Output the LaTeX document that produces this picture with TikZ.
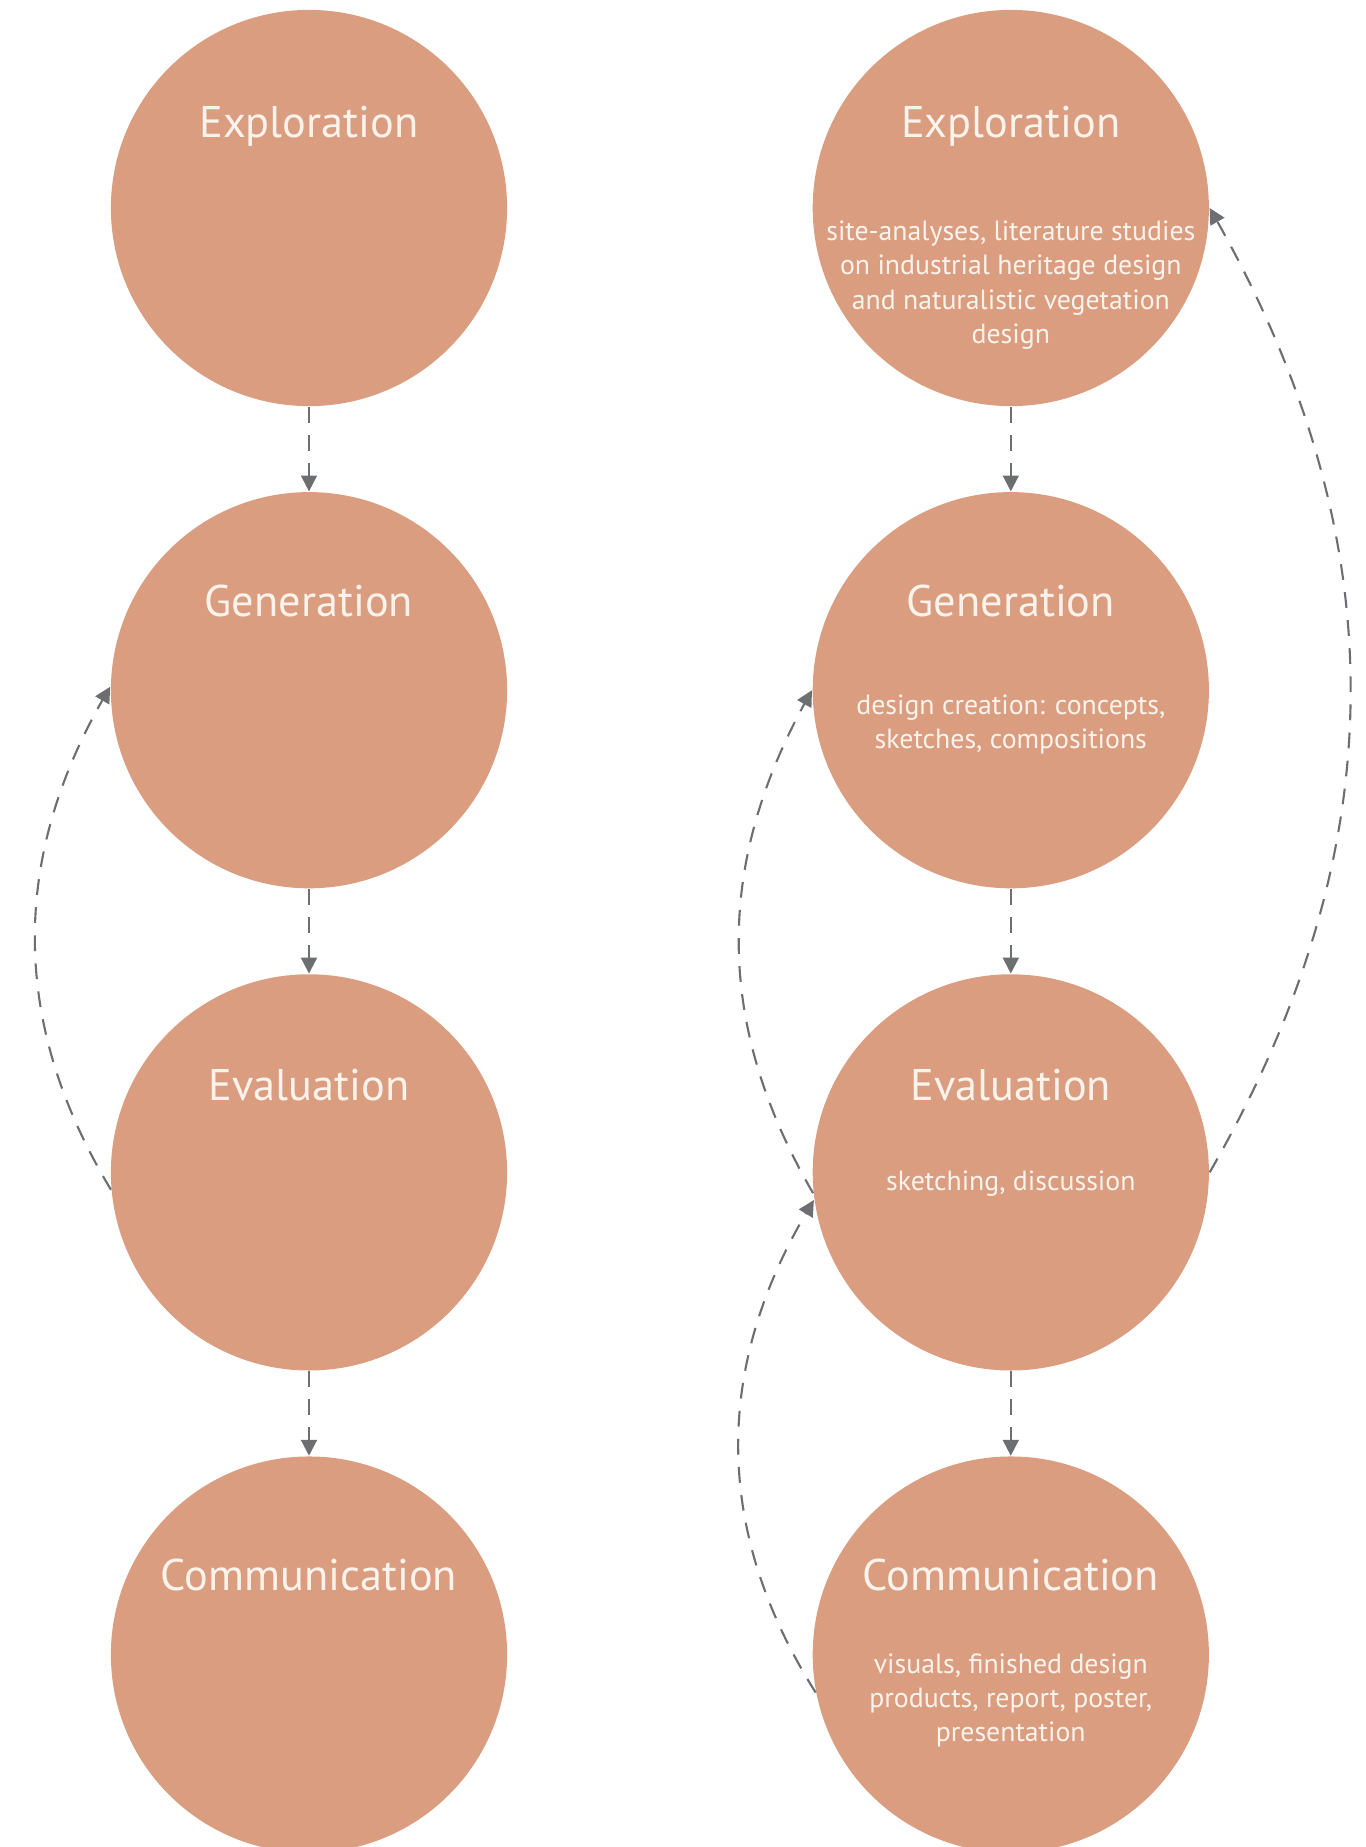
\documentclass[tikz,border=0pt]{standalone}
\usepackage{fontspec}
\setmainfont{PT Sans}
\usetikzlibrary{positioning,arrows.meta,bending}
\definecolor{clay}{RGB}{218,157,128}
\definecolor{cream}{RGB}{250,243,236}
\definecolor{arrowgray}{RGB}{108,110,114}
\begin{document}
\begin{tikzpicture}[x=0.01cm, y=-0.01cm]
            % 定义样式
            \tikzstyle{phase}=[circle, fill=clay, minimum size=3.96cm, inner sep=0pt]
            \tikzstyle{title}=[text=cream, anchor=base, font=\fontsize{12.6}{15}\selectfont]
            \tikzstyle{note}=[text=cream, align=center, font=\fontsize{7.9}{9.76}\selectfont]
            \tikzstyle{flow}=[draw=arrowgray, line width=0.6pt, dash pattern=on 4.5pt off 3.5pt,
                -{Triangle[length=4.5pt, width=4.5pt]}]

            \useasboundingbox (0,0) rectangle (1366,1847);

            % 左列：四个阶段
            \node[phase] (lx) at (309,208) {};
            \node[phase, below=0.845cm of lx] (lg) {};
            \node[phase, below=0.845cm of lg] (le) {};
            \node[phase, below=0.845cm of le] (lc) {};

            % 右列：四个阶段
            \node[phase, right=3.04cm of lx] (rx) {};
            \node[phase, right=3.04cm of lg] (rg) {};
            \node[phase, right=3.04cm of le] (re) {};
            \node[phase, right=3.04cm of lc] (rc) {};

            % 标题
            \node[title] (lx-t) at ([yshift=0.70cm]lx.center) {Exploration};
            \node[title] (lg-t) at ([yshift=0.74cm]lg.center) {Generation};
            \node[title] (le-t) at ([yshift=0.72cm]le.center) {Evaluation};
            \node[title] (lc-t) at ([yshift=0.64cm]lc.center) {Communication};
            \node[title] (rx-t) at ([yshift=0.70cm]rx.center) {Exploration};
            \node[title] (rg-t) at ([yshift=0.74cm]rg.center) {Generation};
            \node[title] (re-t) at ([yshift=0.72cm]re.center) {Evaluation};
            \node[title] (rc-t) at ([yshift=0.64cm]rc.center) {Communication};

            % 说明文字 (只在右列)
            \node[note] (rx-n) at ([yshift=-0.77cm]rx.center)
                {site-analyses, literature studies\\on industrial heritage design\\and naturalistic vegetation\\design};
            \node[note] (rg-n) at ([yshift=-0.34cm]rg.center)
                {design creation: concepts,\\sketches, compositions};
            \node[note] (re-n) at ([yshift=-0.11cm]re.center) {sketching, discussion};
            \node[note] (rc-n) at ([yshift=-0.46cm]rc.center)
                {visuals, finished design\\products, report, poster,\\presentation};

            % 直线箭头
            \draw[flow] (lx) -- (lg);
            \draw[flow] (lg) -- (le);
            \draw[flow] (le) -- (lc);
            \draw[flow] (rx) -- (rg);
            \draw[flow] (rg) -- (re);
            \draw[flow] (re) -- (rc);

            % 反馈弧线
            \draw[flow] (le.185) to[bend left=31] (lg.179);
            \draw[flow] (re.186) to[bend left=30] (rg.west);
            \draw[flow] (rc.191) to[bend left=32] (re.188);
            \draw[flow] (re.east) to[bend right=30] (rx.east);
\end{tikzpicture}
\end{document}
